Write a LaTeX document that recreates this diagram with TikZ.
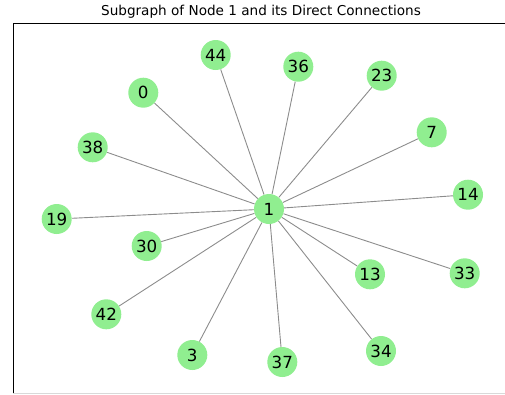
\documentclass[tikz,border=0pt]{standalone}
\usepackage{fontspec}
\setmainfont{DejaVu Sans}
\usetikzlibrary{backgrounds}
\definecolor{nodegreen}{RGB}{144,238,144}
\definecolor{edgegray}{RGB}{140,140,140}
\tikzset{
  vtx/.style={circle,fill=nodegreen,draw=none,minimum size=30pt,inner sep=0pt,
    font=\fontsize{16.7}{18}\selectfont},
  edge/.style={draw=edgegray,line width=0.9pt},
}

\begin{document}
\begin{tikzpicture}[x=1pt,y=-1pt]
  \useasboundingbox (0,0) rectangle (505,394);
  \node[font=\fontsize{13.6}{16}\selectfont] (title) at (261,12) {Subgraph of Node 1 and its Direct Connections};
  \draw[line width=0.8pt] (13.3,393.6) -- (13.3,23.3) -- (520,23.3);
  \draw[line width=0.8pt,black!15] (13.3,393.6) -- (520,393.6);
  % hub
  \node[vtx] (n1) at (269,209) {1};
  % neighbours
  \node[vtx] (n44) at (215.7,55) {44};
  \node[vtx] (n36) at (298.3,66.7) {36};
  \node[vtx] (n23) at (381.7,75.7) {23};
  \node[vtx] (n0) at (143.3,92.7) {0};
  \node[vtx] (n7) at (431.7,132.3) {7};
  \node[vtx] (n38) at (92.7,147.3) {38};
  \node[vtx] (n14) at (468,194.7) {14};
  \node[vtx] (n19) at (56.7,219) {19};
  \node[vtx] (n30) at (146.7,246) {30};
  \node[vtx] (n13) at (370,274.3) {13};
  \node[vtx] (n33) at (464.7,273.3) {33};
  \node[vtx] (n42) at (106.3,314.3) {42};
  \node[vtx] (n3) at (192.3,355) {3};
  \node[vtx] (n37) at (282.3,362) {37};
  \node[vtx] (n34) at (381,351) {34};
  \begin{scope}[on background layer]
    \draw[edge] (n1)--(n44); \draw[edge] (n1)--(n36); \draw[edge] (n1)--(n23);
    \draw[edge] (n1)--(n0); \draw[edge] (n1)--(n7); \draw[edge] (n1)--(n38);
    \draw[edge] (n1)--(n14); \draw[edge] (n1)--(n19); \draw[edge] (n1)--(n30);
    \draw[edge] (n1)--(n13); \draw[edge] (n1)--(n33); \draw[edge] (n1)--(n42);
    \draw[edge] (n1)--(n3); \draw[edge] (n1)--(n37); \draw[edge] (n1)--(n34);
  \end{scope}
\end{tikzpicture}
\end{document}
